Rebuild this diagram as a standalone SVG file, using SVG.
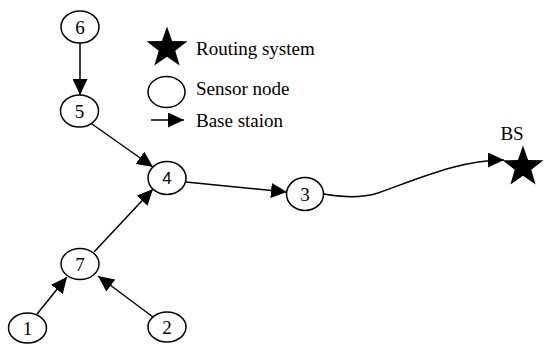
<svg xmlns="http://www.w3.org/2000/svg" width="544" height="350" viewBox="0 0 544 350">
<style>
.node ellipse{fill:#fff;stroke:#000;stroke-width:1.5}
.lbl{font-family:"Liberation Serif","Times New Roman",serif;font-size:19px;fill:#000}
.num{font-family:"Liberation Serif","Times New Roman",serif;font-size:19px;fill:#000;text-anchor:middle}
.sans{font-family:"Liberation Sans",Arial,sans-serif;font-size:17px}
.edge{fill:none;stroke:#000;stroke-width:1.5;marker-end:url(#ah)}
</style>
<defs>
<marker id="ah" markerUnits="userSpaceOnUse" markerWidth="17" markerHeight="15" refX="16" refY="7.5" orient="auto" viewBox="0 0 17 15">
<path d="M0,0 L16,7.5 L0,15 Z" fill="#000"/>
</marker>
<polygon id="star" points="0,-21.5 5.1,-7 20.45,-6.64 8.27,2.69 12.64,17.39 0,8.7 -12.64,17.39 -8.27,2.69 -20.45,-6.64 -5.1,-7" fill="#000"/>
</defs>
<g id="legend">
<use href="#star" x="167" y="48"/>
<text class="lbl" x="196" y="55">Routing system</text>
<ellipse cx="166.5" cy="92" rx="18.5" ry="15.5" fill="#fff" stroke="#000" stroke-width="1.5"/>
<text class="lbl" x="196" y="95">Sensor node</text>
<line class="edge" x1="151" y1="120" x2="184" y2="120"/>
<text class="lbl" x="196" y="127">Base staion</text>
</g>
<g id="connectors">
<line class="edge" x1="80" y1="43" x2="80" y2="95"/>
<line class="edge" x1="92" y1="124" x2="153" y2="167"/>
<line class="edge" x1="186" y1="182" x2="287" y2="192"/>
<line class="edge" x1="94" y1="252" x2="153" y2="189"/>
<line class="edge" x1="37" y1="314" x2="67" y2="277"/>
<line class="edge" x1="153" y1="317" x2="98" y2="276"/>
<path class="edge" d="M324,194 C345,198 362,198 378,193 C420,178 460,160 504,160"/>
</g>
<g id="node6" class="node"><ellipse cx="80" cy="27" rx="19" ry="16"/><text class="num" x="80" y="34">6</text></g>
<g id="node5" class="node"><ellipse cx="79.5" cy="111" rx="19" ry="16"/><text class="num" x="79.5" y="118">5</text></g>
<g id="node4" class="node"><ellipse cx="167" cy="178" rx="19" ry="16.5"/><text class="num sans" x="167" y="184">4</text></g>
<g id="node3" class="node"><ellipse cx="305" cy="194" rx="18.5" ry="16.5"/><text class="num" x="305" y="201">3</text></g>
<g id="node7" class="node"><ellipse cx="80" cy="264" rx="19" ry="15.5"/><text class="num" x="80" y="271">7</text></g>
<g id="node1" class="node"><ellipse cx="27.5" cy="328" rx="19" ry="15"/><text class="num" x="27.5" y="335">1</text></g>
<g id="node2" class="node"><ellipse cx="167" cy="327" rx="19" ry="15"/><text class="num" x="167" y="334">2</text></g>
<g id="bs">
<use href="#star" x="523" y="167"/>
<text class="lbl" x="512" y="140" text-anchor="middle">BS</text>
</g>
</svg>
